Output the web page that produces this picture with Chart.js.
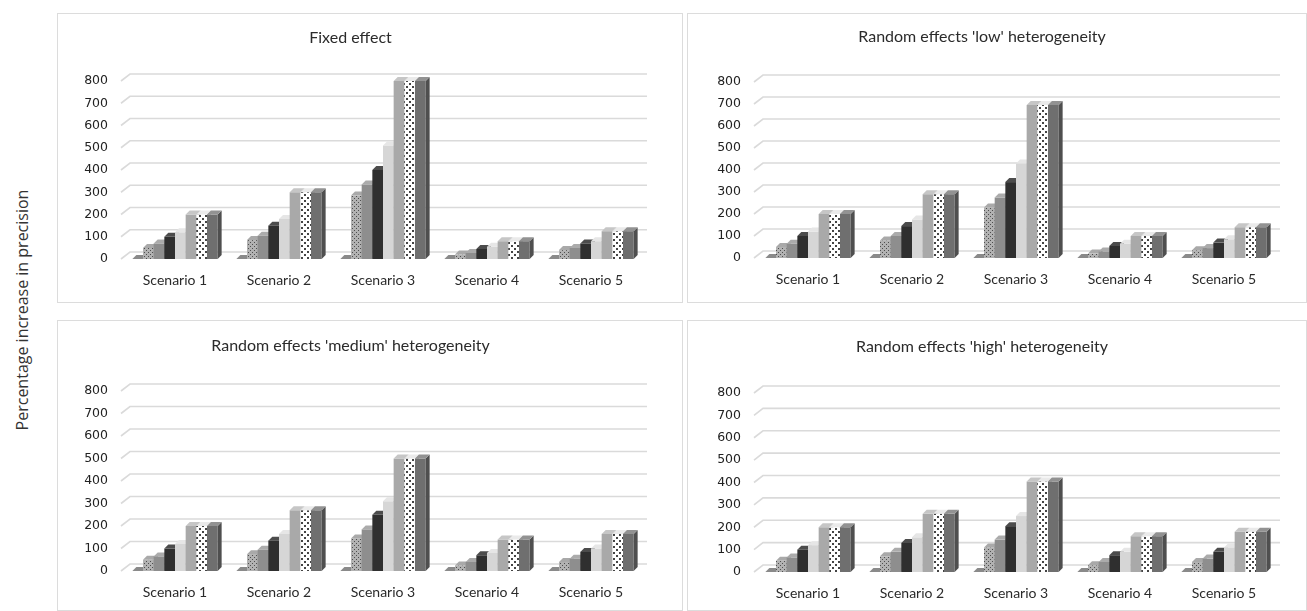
<!DOCTYPE html>
<html>
<head>
<meta charset="utf-8">
<script src="https://cdn.jsdelivr.net/npm/chart.js@4"></script>
<style>
  body { margin: 0; background: #fff; width: 1307px; height: 611px; position: relative; overflow: hidden; }
  .panel { position: absolute; box-sizing: border-box; border: 1px solid #dcdcdc; }
  .panel canvas { position: absolute; left: 0; top: 0; }
  #ytitle {
    position: absolute; left: 22px; top: 310px;
    transform: translate(-50%, -50%) rotate(-90deg);
    font-family: "Open Sans", sans-serif; font-size: 16px; color: #333; white-space: nowrap;
  }
</style>
</head>
<body>
<div id="ytitle">Percentage increase in precision</div>
<div class="panel" style="left:57px;top:13px;width:626px;height:290px"><canvas id="c1"></canvas></div>
<div class="panel" style="left:687px;top:13px;width:620px;height:290px"><canvas id="c2"></canvas></div>
<div class="panel" style="left:57px;top:320px;width:626px;height:291px"><canvas id="c3"></canvas></div>
<div class="panel" style="left:687px;top:320px;width:620px;height:291px"><canvas id="c4"></canvas></div>
<script>
var categories = ["Scenario 1", "Scenario 2", "Scenario 3", "Scenario 4", "Scenario 5"];
var yMin = 0, yMax = 800, yStep = 100;

// one row per series (8 bars per scenario), one value per scenario
var fixedEffect = [
  [0, 0, 0, 0, 0],
  [50, 85, 285, 20, 40],
  [70, 105, 335, 27, 50],
  [100, 150, 400, 45, 70],
  [120, 180, 510, 55, 80],
  [200, 300, 800, 80, 125],
  [200, 300, 800, 80, 125],
  [200, 300, 800, 80, 125],
];
var lowHet = [
  [0, 0, 0, 0, 0],
  [50, 80, 230, 20, 35],
  [65, 100, 275, 30, 45],
  [100, 145, 345, 55, 70],
  [120, 175, 430, 65, 85],
  [200, 290, 695, 100, 140],
  [200, 290, 695, 100, 140],
  [200, 290, 695, 100, 140],
];
var mediumHet = [
  [0, 0, 0, 0, 0],
  [50, 75, 145, 25, 40],
  [65, 95, 185, 40, 55],
  [100, 135, 250, 70, 85],
  [120, 165, 310, 80, 100],
  [200, 270, 500, 140, 165],
  [200, 270, 500, 140, 165],
  [200, 270, 500, 140, 165],
];
var highHet = [
  [0, 0, 0, 0, 0],
  [50, 70, 110, 30, 45],
  [65, 90, 145, 45, 60],
  [100, 130, 205, 75, 90],
  [120, 155, 250, 90, 110],
  [200, 260, 405, 160, 180],
  [200, 260, 405, 160, 180],
  [200, 260, 405, 160, 180],
];

function dotPattern(bg, dot, size, dotSize) {
  var c = document.createElement("canvas");
  c.width = size; c.height = size;
  var x = c.getContext("2d");
  x.fillStyle = bg; x.fillRect(0, 0, size, size);
  x.fillStyle = dot;
  x.fillRect(0, 0, dotSize, dotSize);
  x.fillRect(size / 2, size / 2, dotSize, dotSize);
  return x.createPattern(c, "repeat");
}

// front / side / top shades for each series
var fronts = [
  "#656565",
  dotPattern("#b2b2b2", "#4e4e4e", 4, 1),
  "#8e8e8e",
  "#2f2f2f",
  "#d6d6d6",
  "#a9a9a9",
  dotPattern("#ffffff", "#444444", 6, 2),
  "#6f6f6f",
];
var sides = ["#474747", "#6e6e6e", "#6a6a6a", "#1a1a1a", "#b4b4b4", "#8a8a8a", "#c4c4c4", "#4f4f4f"];
var tops = ["#8a8a8a", "#a9a9a9", "#ababab", "#4c4c4c", "#e6e6e6", "#c6c6c6", "#eaeaea", "#929292"];
var depth = 4;

var bars3d = {
  id: "bars3d",
  beforeDatasetsDraw: function (chart) {
    var ctx = chart.ctx;
    var area = chart.chartArea;
    var y = chart.scales.y;
    // back wall grid with little slanted foot
    ctx.save();
    ctx.strokeStyle = "#dadada";
    ctx.lineWidth = 1.6;
    for (var v = yMin; v <= yMax; v += yStep) {
      var py = y.getPixelForValue(v);
      ctx.beginPath();
      ctx.moveTo(area.left - 2, py);
      ctx.lineTo(area.left + 7, py - 7);
      ctx.lineTo(area.right + 4, py - 7);
      ctx.stroke();
    }
    ctx.restore();

    // bars drawn left to right so the faces overlap properly
    for (var d = 0; d < chart.data.datasets.length; d++) {
      var meta = chart.getDatasetMeta(d);
      meta.data.forEach(function (el) {
        var p = el.getProps(["x", "y", "base", "width"], true);
        var l = p.x - p.width / 2, r = p.x + p.width / 2;
        el.draw(ctx);
        ctx.save();
        ctx.fillStyle = sides[d];
        ctx.beginPath();
        ctx.moveTo(r, p.y);
        ctx.lineTo(r + depth, p.y - depth);
        ctx.lineTo(r + depth, p.base - depth);
        ctx.lineTo(r, p.base);
        ctx.closePath();
        ctx.fill();
        ctx.fillStyle = tops[d];
        ctx.beginPath();
        ctx.moveTo(l, p.y);
        ctx.lineTo(l + depth, p.y - depth);
        ctx.lineTo(r + depth, p.y - depth);
        ctx.lineTo(r, p.y);
        ctx.closePath();
        ctx.fill();
        ctx.restore();
      });
    }
    return false;
  },
};

function makeChart(id, title, rows, box) {
  // box: panel size and where the plot area should sit inside it
  var canvas = document.getElementById(id);
  var titleSize = 16;
  var titleH = titleSize * 1.2;
  var padTop = box.titleY - titleH / 2;
  var padBottom = box.top - padTop - titleH;
  var datasets = rows.map(function (vals, i) {
    return {
      label: "Series " + (i + 1),
      data: vals,
      backgroundColor: fronts[i],
      borderWidth: 0,
      categoryPercentage: 0.82,
      barPercentage: 1.0,
    };
  });
  return new Chart(canvas, {
    type: "bar",
    data: { labels: categories, datasets: datasets },
    options: {
      responsive: false,
      animation: false,
      layout: { padding: { left: 0, right: box.w - box.right, top: 0, bottom: 0 } },
      plugins: {
        legend: { display: false },
        tooltip: { enabled: false },
        title: {
          display: true,
          text: title,
          color: "#2b2b2b",
          font: { family: "Lato", size: titleSize, weight: "normal" },
          padding: { top: padTop, bottom: padBottom },
        },
      },
      scales: {
        x: {
          grid: { display: false, drawTicks: false },
          border: { display: false },
          ticks: { color: "#2b2b2b", font: { family: "Lato", size: 14 }, padding: 13 },
          afterFit: function (s) { s.height = box.h - box.bottom; },
        },
        y: {
          min: yMin,
          max: yMax,
          grid: { display: false, drawTicks: false },
          border: { display: false },
          ticks: { stepSize: yStep, color: "#222", font: { family: "DejaVu Sans", size: 12.5 }, padding: 15 },
          afterFit: function (s) { s.width = box.left; },
        },
      },
    },
    plugins: [bars3d],
  });
}

function sizeCanvas(id, w, h) {
  var c = document.getElementById(id);
  c.width = w; c.height = h;
  c.style.width = w + "px"; c.style.height = h + "px";
}

sizeCanvas("c1", 624, 288);
sizeCanvas("c2", 618, 288);
sizeCanvas("c3", 624, 289);
sizeCanvas("c4", 618, 289);

// coordinates below are relative to each panel's inner box (panel origin + 1px border)
makeChart("c1", "Fixed effect", fixedEffect, { w: 624, h: 288, titleY: 24, left: 65, right: 585, top: 67, bottom: 245 });
makeChart("c2", "Random effects 'low' heterogeneity", lowHet, { w: 618, h: 288, titleY: 23, left: 68, right: 588, top: 68, bottom: 244 });
makeChart("c3", "Random effects 'medium' heterogeneity", mediumHet, { w: 624, h: 289, titleY: 25, left: 65, right: 585, top: 70, bottom: 250 });
makeChart("c4", "Random effects 'high' heterogeneity", highHet, { w: 618, h: 289, titleY: 26, left: 68, right: 588, top: 72, bottom: 251 });
</script>
</body>
</html>
